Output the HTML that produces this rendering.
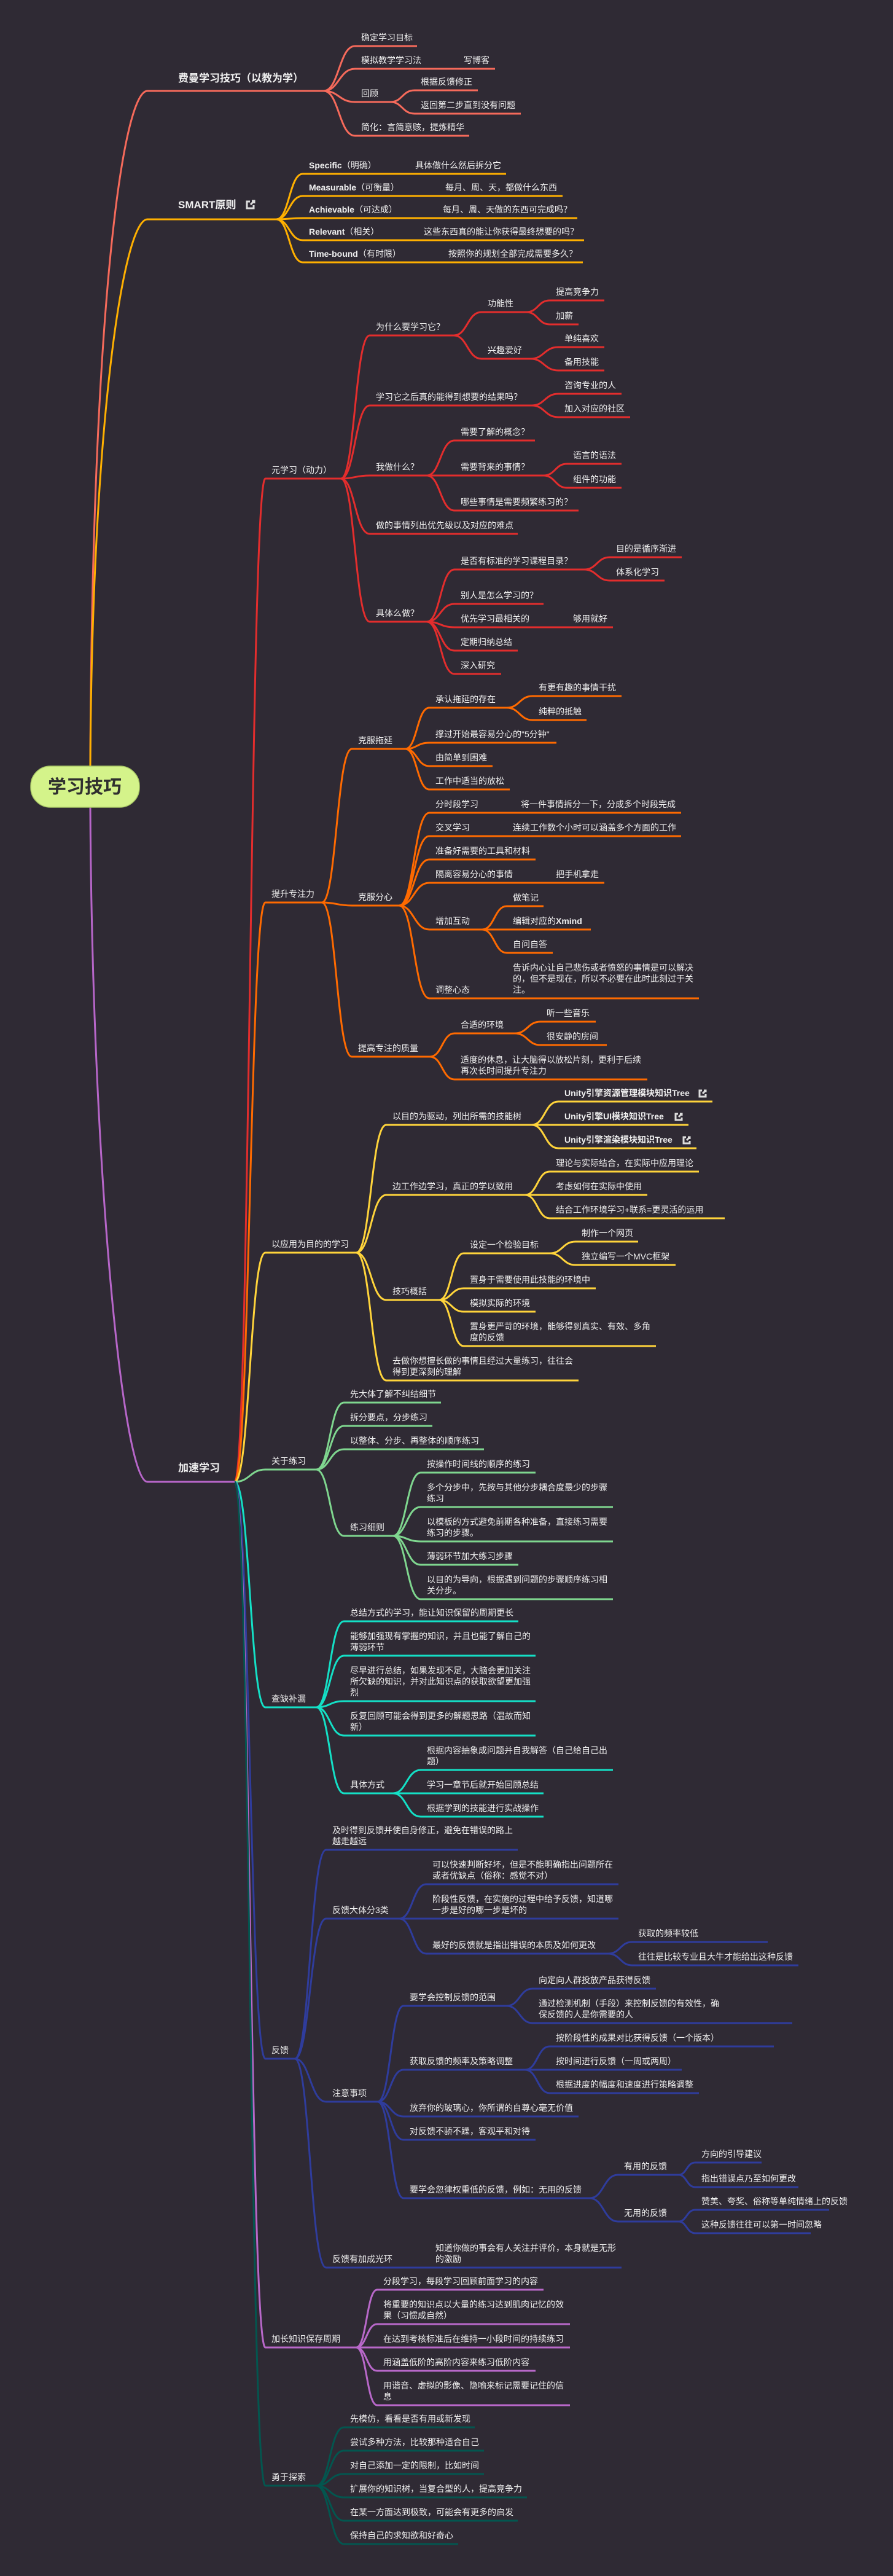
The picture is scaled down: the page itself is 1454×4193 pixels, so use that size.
<!DOCTYPE html>
<html><head><meta charset="utf-8"><style>
html,body{margin:0;padding:0;background:#2f2a34;}
svg{display:block}
text{font-family:"Liberation Sans","Noto Sans CJK SC",sans-serif;font-size:14px;fill:#f0f0f0;}
.b{font-weight:bold}
.l1{font-size:17px;font-weight:bold}
path{fill:none;stroke-width:3}
</style></head><body>
<svg width="1454" height="4193" viewBox="0 0 1454 4193" xmlns="http://www.w3.org/2000/svg">
<rect width="1454" height="4193" fill="#2f2a34"/>

<!-- A 费曼 -->
<g stroke="#f66a5b">
<path stroke-width="4" d="M147,1247 C150,500 200,148 240,148 L527,148"/>
<path d="M527,148 C552,148 552,75 578,75 L679,75"/>
<path d="M527,148 C552,148 552,112 578,112 L806,112"/>
<path d="M527,148 C552,148 552,166 578,166 L636,166"/>
<path d="M636,166 C655,166 655,147 675,147 L778,147"/>
<path d="M636,166 C655,166 655,185 675,185 L848,185"/>
<path d="M527,148 C552,148 552,221 578,221 L764,221"/>
</g>
<text class="l1" x="290" y="133">费曼学习技巧（以教为学）</text>
<text x="588" y="66">确定学习目标</text>
<text x="588" y="103">模拟教学学习法</text><text x="755" y="103">写博客</text>
<text x="588" y="157">回顾</text>
<text x="685" y="138">根据反馈修正</text>
<text x="685" y="176">返回第二步直到没有问题</text>
<text x="588" y="212">简化：言简意赅，提炼精华</text>

<!-- B SMART -->
<g stroke="#ffb000">
<path stroke-width="4" d="M147,1247 C150,700 200,357 240,357 L450,357"/>
<path d="M450,357 C471,357 471,283 493,283 L824,283"/>
<path d="M450,357 C471,357 471,319 493,319 L916,319"/>
<path d="M450,357 C471,357 471,355 493,355 L940,355"/>
<path d="M450,357 C471,357 471,391 493,391 L951,391"/>
<path d="M450,357 C471,357 471,427 493,427 L949,427"/>
</g>
<text class="l1" x="290" y="339">SMART原则</text>
<g stroke="#ddd" stroke-width="1.5" fill="none"><path d="M407,328 h-5 v11 h11 v-5" stroke-width="1.5"/><path d="M408,333 l6,-6 M410,327 h4 v4" stroke-width="1.5"/></g>
<text x="503" y="274"><tspan class="b">Specific</tspan>（明确）</text><text x="676" y="274">具体做什么然后拆分它</text>
<text x="503" y="310"><tspan class="b">Measurable</tspan>（可衡量）</text><text x="725" y="310">每月、周、天，都做什么东西</text>
<text x="503" y="346"><tspan class="b">Achievable</tspan>（可达成）</text><text x="721" y="346">每月、周、天做的东西可完成吗？</text>
<text x="503" y="382"><tspan class="b">Relevant</tspan>（相关）</text><text x="690" y="382">这些东西真的能让你获得最终想要的吗？</text>
<text x="503" y="418"><tspan class="b">Time-bound</tspan>（有时限）</text><text x="730" y="418">按照你的规划全部完成需要多久？</text>

<!-- C 加速学习 trunk -->
<path stroke="#b766c9" stroke-width="4" d="M147,1314 C150,1900 200,2412 240,2412 L382,2412"/>
<text class="l1" x="290" y="2395">加速学习</text>
<path stroke="#e32d2d" d="M382,2412 C407,2412 407,779 432,779 L555,779"/>
<path stroke="#ff6a00" d="M382,2412 C407,2412 407,1469 432,1469 L524,1469"/>
<path stroke="#ffd43b" d="M382,2412 C407,2412 407,2039 432,2039 L580,2039"/>
<path stroke="#7fd68f" d="M382,2412 C407,2412 407,2392 432,2392 L515,2392"/>
<path stroke="#14e0c6" d="M382,2412 C407,2412 407,2779 432,2779 L515,2779"/>
<path stroke="#2f3c9c" d="M382,2412 C407,2412 407,3351 432,3351 L480,3351"/>
<path stroke="#b868c9" d="M382,2412 C407,2412 407,3821 432,3821 L580,3821"/>
<path stroke="#03564f" d="M382,2412 C407,2412 407,4046 432,4046 L515,4046"/>

<!-- Red 元学习 -->
<g stroke="#e32d2d">
<path d="M555,779 C578,779 578,546 602,546 L739,546"/>
<path d="M555,779 C578,779 578,660 602,660 L866,660"/>
<path d="M555,779 C578,779 578,774 602,774 L695,774"/>
<path d="M555,779 C578,779 578,869 602,869 L843,869"/>
<path d="M555,779 C578,779 578,1012 602,1012 L695,1012"/>
<path d="M739,546 C761,546 761,508 784,508 L857,508"/>
<path d="M739,546 C761,546 761,584 784,584 L864,584"/>
<path d="M857,508 C876,508 876,489 895,489 L984,489"/>
<path d="M857,508 C876,508 876,528 895,528 L942,528"/>
<path d="M864,584 C886,584 886,565 909,565 L984,565"/>
<path d="M864,584 C886,584 886,603 909,603 L984,603"/>
<path d="M866,660 C887,660 887,641 909,641 L1012,641"/>
<path d="M866,660 C887,660 887,679 909,679 L1026,679"/>
<path d="M695,774 C717,774 717,717 740,717 L871,717"/>
<path d="M695,774 C717,774 717,774 740,774 L885,774"/>
<path d="M695,774 C717,774 717,831 740,831 L942,831"/>
<path d="M885,774 C904,774 904,755 923,755 L1012,755"/>
<path d="M885,774 C904,774 904,794 923,794 L1012,794"/>
<path d="M695,1012 C717,1012 717,927 740,927 L951,927"/>
<path d="M695,1012 C717,1012 717,983 740,983 L885,983"/>
<path d="M695,1012 C717,1012 717,1021 740,1021 L998,1021"/>
<path d="M695,1012 C717,1012 717,1059 740,1059 L843,1059"/>
<path d="M695,1012 C717,1012 717,1097 740,1097 L816,1097"/>
<path d="M951,927 C972,927 972,907 993,907 L1110,907"/>
<path d="M951,927 C972,927 972,945 993,945 L1082,945"/>
</g>
<text x="442" y="770">元学习（动力）</text>
<text x="612" y="537">为什么要学习它？</text>
<text x="794" y="499">功能性</text>
<text x="905" y="480">提高竞争力</text>
<text x="905" y="519">加薪</text>
<text x="794" y="575">兴趣爱好</text>
<text x="919" y="556">单纯喜欢</text>
<text x="919" y="594">备用技能</text>
<text x="612" y="651">学习它之后真的能得到想要的结果吗？</text>
<text x="919" y="632">咨询专业的人</text>
<text x="919" y="670">加入对应的社区</text>
<text x="612" y="765">我做什么？</text>
<text x="750" y="708">需要了解的概念？</text>
<text x="750" y="765">需要背来的事情？</text>
<text x="933" y="746">语言的语法</text>
<text x="933" y="785">组件的功能</text>
<text x="750" y="822">哪些事情是需要频繁练习的？</text>
<text x="612" y="860">做的事情列出优先级以及对应的难点</text>
<text x="612" y="1003">具体么做？</text>
<text x="750" y="918">是否有标准的学习课程目录？</text>
<text x="1003" y="898">目的是循序渐进</text>
<text x="1003" y="936">体系化学习</text>
<text x="750" y="974">别人是怎么学习的？</text>
<text x="750" y="1012">优先学习最相关的</text><text x="933" y="1012">够用就好</text>
<text x="750" y="1050">定期归纳总结</text>
<text x="750" y="1088">深入研究</text>

<!-- Orange 提升专注力 -->
<g stroke="#ff6a00">
<path d="M524,1469 C548,1469 548,1219 573,1219 L660,1219"/>
<path d="M524,1469 C548,1469 548,1474 573,1474 L650,1474"/>
<path d="M524,1469 C548,1469 548,1720 573,1720 L700,1720"/>
<path d="M660,1219 C679,1219 679,1152 699,1152 L825,1152"/>
<path d="M660,1219 C679,1219 679,1209 699,1209 L906,1209"/>
<path d="M660,1219 C679,1219 679,1247 699,1247 L802,1247"/>
<path d="M660,1219 C679,1219 679,1285 699,1285 L830,1285"/>
<path d="M825,1152 C846,1152 846,1133 867,1133 L1012,1133"/>
<path d="M825,1152 C846,1152 846,1172 867,1172 L955,1172"/>
<path d="M650,1474 C674,1474 674,1323 699,1323 L1109,1323"/>
<path d="M650,1474 C674,1474 674,1361 699,1361 L1109,1361"/>
<path d="M650,1474 C674,1474 674,1399 699,1399 L872,1399"/>
<path d="M650,1474 C674,1474 674,1437 699,1437 L984,1437"/>
<path d="M650,1474 C674,1474 674,1513 699,1513 L785,1513"/>
<path d="M650,1474 C674,1474 674,1625 699,1625 L1138,1625"/>
<path d="M785,1513 C805,1513 805,1475 825,1475 L885,1475"/>
<path d="M785,1513 C805,1513 805,1513 825,1513 L962,1513"/>
<path d="M785,1513 C805,1513 805,1551 825,1551 L900,1551"/>
<path d="M700,1720 C720,1720 720,1682 740,1682 L838,1682"/>
<path d="M700,1720 C720,1720 720,1757 740,1757 L1054,1757"/>
<path d="M838,1682 C859,1682 859,1663 880,1663 L970,1663"/>
<path d="M838,1682 C859,1682 859,1701 880,1701 L988,1701"/>
</g>
<text x="442" y="1460">提升专注力</text>
<text x="583" y="1210">克服拖延</text>
<text x="709" y="1143">承认拖延的存在</text>
<text x="877" y="1124">有更有趣的事情干扰</text>
<text x="877" y="1163">纯粹的抵触</text>
<text x="709" y="1200">撑过开始最容易分心的"5分钟"</text>
<text x="709" y="1238">由简单到困难</text>
<text x="709" y="1276">工作中适当的放松</text>
<text x="583" y="1465">克服分心</text>
<text x="709" y="1314">分时段学习</text><text x="848" y="1314">将一件事情拆分一下，分成多个时段完成</text>
<text x="709" y="1352">交叉学习</text><text x="835" y="1352">连续工作数个小时可以涵盖多个方面的工作</text>
<text x="709" y="1390">准备好需要的工具和材料</text>
<text x="709" y="1428">隔离容易分心的事情</text><text x="905" y="1428">把手机拿走</text>
<text x="709" y="1504">增加互动</text>
<text x="835" y="1466">做笔记</text>
<text x="835" y="1504">编辑对应的<tspan class="b">Xmind</tspan></text>
<text x="835" y="1542">自问自答</text>
<text x="709" y="1616">调整心态</text>
<text x="835" y="1580">告诉内心让自己悲伤或者愤怒的事情是可以解决</text>
<text x="835" y="1598">的，但不是现在，所以不必要在此时此刻过于关</text>
<text x="835" y="1616">注。</text>
<text x="583" y="1711">提高专注的质量</text>
<text x="750" y="1673">合适的环境</text>
<text x="890" y="1654">听一些音乐</text>
<text x="890" y="1692">很安静的房间</text>
<text x="750" y="1730">适度的休息，让大脑得以放松片刻，更利于后续</text>
<text x="750" y="1748">再次长时间提升专注力</text>

<!-- Yellow 以应用 -->
<g stroke="#ffd43b">
<path d="M580,2039 C604,2039 604,1831 629,1831 L866,1831"/>
<path d="M580,2039 C604,2039 604,1945 629,1945 L855,1945"/>
<path d="M580,2039 C604,2039 604,2116 629,2116 L715,2116"/>
<path d="M580,2039 C604,2039 604,2247 629,2247 L942,2247"/>
<path d="M866,1831 C887,1831 887,1793 909,1793 L1160,1793"/>
<path d="M866,1831 C887,1831 887,1831 909,1831 L1121,1831"/>
<path d="M866,1831 C887,1831 887,1869 909,1869 L1134,1869"/>
<path d="M855,1945 C875,1945 875,1907 895,1907 L1138,1907"/>
<path d="M855,1945 C875,1945 875,1945 895,1945 L1054,1945"/>
<path d="M855,1945 C875,1945 875,1983 895,1983 L1180,1983"/>
<path d="M715,2116 C735,2116 735,2040 755,2040 L895,2040"/>
<path d="M715,2116 C735,2116 735,2097 755,2097 L970,2097"/>
<path d="M715,2116 C735,2116 735,2135 755,2135 L872,2135"/>
<path d="M715,2116 C735,2116 735,2191 755,2191 L1068,2191"/>
<path d="M895,2040 C916,2040 916,2021 937,2021 L1039,2021"/>
<path d="M895,2040 C916,2040 916,2059 937,2059 L1100,2059"/>
</g>
<g stroke="#ddd" stroke-width="1.5" fill="none">
<path d="M1143,1775 h-4 v10 h10 v-4 M1144,1780 l5,-5 M1146,1775 h3 v3"/>
<path d="M1104,1813 h-4 v10 h10 v-4 M1105,1818 l5,-5 M1107,1813 h3 v3"/>
<path d="M1117,1851 h-4 v10 h10 v-4 M1118,1856 l5,-5 M1120,1851 h3 v3"/>
</g>
<text x="442" y="2030">以应用为目的的学习</text>
<text x="639" y="1822">以目的为驱动，列出所需的技能树</text>
<text class="b" x="919" y="1784">Unity引擎资源管理模块知识Tree</text>
<text class="b" x="919" y="1822">Unity引擎UI模块知识Tree</text>
<text class="b" x="919" y="1860">Unity引擎渲染模块知识Tree</text>
<text x="639" y="1936">边工作边学习，真正的学以致用</text>
<text x="905" y="1898">理论与实际结合，在实际中应用理论</text>
<text x="905" y="1936">考虑如何在实际中使用</text>
<text x="905" y="1974">结合工作环境学习+联系=更灵活的运用</text>
<text x="639" y="2107">技巧概括</text>
<text x="765" y="2031">设定一个检验目标</text>
<text x="947" y="2012">制作一个网页</text>
<text x="947" y="2050">独立编写一个MVC框架</text>
<text x="765" y="2088">置身于需要使用此技能的环境中</text>
<text x="765" y="2126">模拟实际的环境</text>
<text x="765" y="2164">置身更严苛的环境，能够得到真实、有效、多角</text>
<text x="765" y="2182">度的反馈</text>
<text x="639" y="2220">去做你想擅长做的事情且经过大量练习，往往会</text>
<text x="639" y="2238">得到更深刻的理解</text>

<!-- Green 关于练习 -->
<g stroke="#7fd68f">
<path d="M515,2392 C537,2392 537,2283 560,2283 L718,2283"/>
<path d="M515,2392 C537,2392 537,2321 560,2321 L704,2321"/>
<path d="M515,2392 C537,2392 537,2359 560,2359 L788,2359"/>
<path d="M515,2392 C537,2392 537,2500 560,2500 L640,2500"/>
<path d="M640,2500 C662,2500 662,2397 685,2397 L872,2397"/>
<path d="M640,2500 C662,2500 662,2453 685,2453 L998,2453"/>
<path d="M640,2500 C662,2500 662,2509 685,2509 L998,2509"/>
<path d="M640,2500 C662,2500 662,2547 685,2547 L844,2547"/>
<path d="M640,2500 C662,2500 662,2603 685,2603 L998,2603"/>
</g>
<text x="442" y="2383">关于练习</text>
<text x="570" y="2274">先大体了解不纠结细节</text>
<text x="570" y="2312">拆分要点，分步练习</text>
<text x="570" y="2350">以整体、分步、再整体的顺序练习</text>
<text x="570" y="2491">练习细则</text>
<text x="695" y="2388">按操作时间线的顺序的练习</text>
<text x="695" y="2426">多个分步中，先按与其他分步耦合度最少的步骤</text>
<text x="695" y="2444">练习</text>
<text x="695" y="2482">以模板的方式避免前期各种准备，直接练习需要</text>
<text x="695" y="2500">练习的步骤。</text>
<text x="695" y="2538">薄弱环节加大练习步骤</text>
<text x="695" y="2576">以目的为导向，根据遇到问题的步骤顺序练习相</text>
<text x="695" y="2594">关分步。</text>

<!-- Turquoise 查缺补漏 -->
<g stroke="#14e0c6">
<path d="M515,2779 C537,2779 537,2639 560,2639 L844,2639"/>
<path d="M515,2779 C537,2779 537,2695 560,2695 L872,2695"/>
<path d="M515,2779 C537,2779 537,2769 560,2769 L872,2769"/>
<path d="M515,2779 C537,2779 537,2825 560,2825 L872,2825"/>
<path d="M515,2779 C537,2779 537,2919 560,2919 L640,2919"/>
<path d="M640,2919 C662,2919 662,2881 685,2881 L998,2881"/>
<path d="M640,2919 C662,2919 662,2919 685,2919 L885,2919"/>
<path d="M640,2919 C662,2919 662,2957 685,2957 L885,2957"/>
</g>
<text x="442" y="2770">查缺补漏</text>
<text x="570" y="2630">总结方式的学习，能让知识保留的周期更长</text>
<text x="570" y="2668">能够加强现有掌握的知识，并且也能了解自己的</text>
<text x="570" y="2686">薄弱环节</text>
<text x="570" y="2724">尽早进行总结，如果发现不足，大脑会更加关注</text>
<text x="570" y="2742">所欠缺的知识，并对此知识点的获取欲望更加强</text>
<text x="570" y="2760">烈</text>
<text x="570" y="2798">反复回顾可能会得到更多的解题思路（温故而知</text>
<text x="570" y="2816">新）</text>
<text x="570" y="2910">具体方式</text>
<text x="695" y="2854">根据内容抽象成问题并自我解答（自己给自己出</text>
<text x="695" y="2872">题）</text>
<text x="695" y="2910">学习一章节后就开始回顾总结</text>
<text x="695" y="2948">根据学到的技能进行实战操作</text>

<!-- Indigo 反馈 -->
<g stroke="#2f3c9c">
<path d="M480,3351 C505,3351 505,3011 531,3011 L843,3011"/>
<path d="M480,3351 C505,3351 505,3123 531,3123 L650,3123"/>
<path d="M480,3351 C505,3351 505,3421 531,3421 L615,3421"/>
<path d="M480,3351 C505,3351 505,3691 531,3691 L1012,3691"/>
<path d="M650,3123 C672,3123 672,3067 694,3067 L1007,3067"/>
<path d="M650,3123 C672,3123 672,3123 694,3123 L1007,3123"/>
<path d="M650,3123 C672,3123 672,3180 694,3180 L990,3180"/>
<path d="M990,3180 C1010,3180 1010,3161 1029,3161 L1250,3161"/>
<path d="M990,3180 C1010,3180 1010,3199 1029,3199 L1300,3199"/>
<path d="M615,3421 C636,3421 636,3265 657,3265 L825,3265"/>
<path d="M615,3421 C636,3421 636,3369 657,3369 L855,3369"/>
<path d="M615,3421 C636,3421 636,3445 657,3445 L942,3445"/>
<path d="M615,3421 C636,3421 636,3483 657,3483 L872,3483"/>
<path d="M615,3421 C636,3421 636,3578 657,3578 L960,3578"/>
<path d="M825,3265 C846,3265 846,3237 867,3237 L1068,3237"/>
<path d="M825,3265 C846,3265 846,3293 867,3293 L1290,3293"/>
<path d="M855,3369 C875,3369 875,3331 895,3331 L1260,3331"/>
<path d="M855,3369 C875,3369 875,3369 895,3369 L1110,3369"/>
<path d="M855,3369 C875,3369 875,3407 895,3407 L1138,3407"/>
<path d="M960,3578 C983,3578 983,3540 1006,3540 L1105,3540"/>
<path d="M960,3578 C983,3578 983,3616 1006,3616 L1105,3616"/>
<path d="M1105,3540 C1118,3540 1118,3520 1132,3520 L1240,3520"/>
<path d="M1105,3540 C1118,3540 1118,3560 1132,3560 L1300,3560"/>
<path d="M1105,3616 C1118,3616 1118,3597 1132,3597 L1350,3597"/>
<path d="M1105,3616 C1118,3616 1118,3635 1132,3635 L1320,3635"/>
</g>
<text x="442" y="3342">反馈</text>
<text x="541" y="2984">及时得到反馈并使自身修正，避免在错误的路上</text>
<text x="541" y="3002">越走越远</text>
<text x="541" y="3114">反馈大体分3类</text>
<text x="704" y="3040">可以快速判断好坏，但是不能明确指出问题所在</text>
<text x="704" y="3058">或者优缺点（俗称：感觉不对）</text>
<text x="704" y="3096">阶段性反馈，在实施的过程中给予反馈，知道哪</text>
<text x="704" y="3114">一步是好的哪一步是坏的</text>
<text x="704" y="3171">最好的反馈就是指出错误的本质及如何更改</text>
<text x="1039" y="3152">获取的频率较低</text>
<text x="1039" y="3190">往往是比较专业且大牛才能给出这种反馈</text>
<text x="541" y="3412">注意事项</text>
<text x="667" y="3256">要学会控制反馈的范围</text>
<text x="877" y="3228">向定向人群投放产品获得反馈</text>
<text x="877" y="3266">通过检测机制（手段）来控制反馈的有效性，确</text>
<text x="877" y="3284">保反馈的人是你需要的人</text>
<text x="667" y="3360">获取反馈的频率及策略调整</text>
<text x="905" y="3322">按阶段性的成果对比获得反馈（一个版本）</text>
<text x="905" y="3360">按时间进行反馈（一周或两周）</text>
<text x="905" y="3398">根据进度的幅度和速度进行策略调整</text>
<text x="667" y="3436">放弃你的玻璃心，你所谓的自尊心毫无价值</text>
<text x="667" y="3474">对反馈不骄不躁，客观平和对待</text>
<text x="667" y="3569">要学会忽律权重低的反馈，例如：无用的反馈</text>
<text x="1016" y="3531">有用的反馈</text>
<text x="1142" y="3511">方向的引导建议</text>
<text x="1142" y="3551">指出错误点乃至如何更改</text>
<text x="1016" y="3607">无用的反馈</text>
<text x="1142" y="3588">赞美、夸奖、俗称等单纯情绪上的反馈</text>
<text x="1142" y="3626">这种反馈往往可以第一时间忽略</text>
<text x="541" y="3682">反馈有加成光环</text>
<text x="709" y="3664">知道你做的事会有人关注并评价，本身就是无形</text>
<text x="709" y="3682">的激励</text>

<!-- Purple 加长 -->
<g stroke="#b868c9">
<path d="M580,3821 C597,3821 597,3727 614,3727 L885,3727"/>
<path d="M580,3821 C597,3821 597,3783 614,3783 L928,3783"/>
<path d="M580,3821 C597,3821 597,3821 614,3821 L928,3821"/>
<path d="M580,3821 C597,3821 597,3859 614,3859 L872,3859"/>
<path d="M580,3821 C597,3821 597,3915 614,3915 L928,3915"/>
</g>
<text x="442" y="3812">加长知识保存周期</text>
<text x="624" y="3718">分段学习，每段学习回顾前面学习的内容</text>
<text x="624" y="3756">将重要的知识点以大量的练习达到肌肉记忆的效</text>
<text x="624" y="3774">果（习惯成自然）</text>
<text x="624" y="3812">在达到考核标准后在维持一小段时间的持续练习</text>
<text x="624" y="3850">用涵盖低阶的高阶内容来练习低阶内容</text>
<text x="624" y="3888">用谐音、虚拟的影像、隐喻来标记需要记住的信</text>
<text x="624" y="3906">息</text>

<!-- Teal 勇于探索 -->
<g stroke="#03564f">
<path d="M515,4046 C537,4046 537,3951 560,3951 L773,3951"/>
<path d="M515,4046 C537,4046 537,3989 560,3989 L788,3989"/>
<path d="M515,4046 C537,4046 537,4027 560,4027 L788,4027"/>
<path d="M515,4046 C537,4046 537,4065 560,4065 L858,4065"/>
<path d="M515,4046 C537,4046 537,4103 560,4103 L843,4103"/>
<path d="M515,4046 C537,4046 537,4141 560,4141 L746,4141"/>
</g>
<text x="442" y="4037">勇于探索</text>
<text x="570" y="3942">先模仿，看看是否有用或新发现</text>
<text x="570" y="3980">尝试多种方法，比较那种适合自己</text>
<text x="570" y="4018">对自己添加一定的限制，比如时间</text>
<text x="570" y="4056">扩展你的知识树，当复合型的人，提高竞争力</text>
<text x="570" y="4094">在某一方面达到极致，可能会有更多的启发</text>
<text x="570" y="4132">保持自己的求知欲和好奇心</text>

<!-- Root -->
<rect x="50" y="1247" width="177" height="67" rx="32" fill="#d4f38a" stroke="#a9c866" stroke-width="1.5"/>
<text x="138" y="1291" text-anchor="middle" style="font-size:30px;font-weight:bold;fill:#2f2f2f">学习技巧</text>
</svg>
</body></html>
